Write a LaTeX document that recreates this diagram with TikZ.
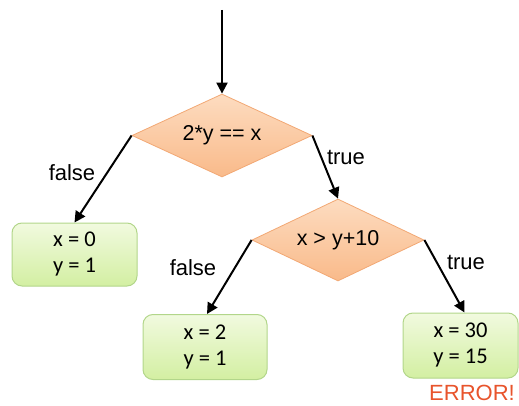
\documentclass[tikz,border=0pt]{standalone}
\usepackage{fontspec}
\setmainfont{Liberation Sans}
\newfontfamily\boxfont{Carlito}
\usetikzlibrary{shapes.geometric,arrows.meta}
\definecolor{dfill1}{HTML}{FDDCC0}
\definecolor{dfill2}{HTML}{F9BA8A}
\definecolor{dborder}{HTML}{F2A874}
\definecolor{bfill1}{HTML}{F1FADF}
\definecolor{bfill2}{HTML}{D3EFA2}
\definecolor{bborder}{HTML}{B2D68A}
\definecolor{errred}{HTML}{E8542C}
\tikzset{
  decision/.style={diamond, draw=dborder, line width=0.8pt, top color=dfill1, bottom color=dfill2,
    inner sep=0pt, aspect=2.17, font=\fontsize{21.5}{25}\selectfont},
  result/.style={rectangle, rounded corners=10pt, draw=bborder, line width=1pt,
    top color=bfill1, bottom color=bfill2, align=center, inner sep=0pt,
    font=\boxfont\fontsize{22.5}{26}\selectfont},
  conn/.style={line width=2pt, -{Triangle[length=11pt,width=11pt]}},
  lbl/.style={font=\fontsize{22}{26}\selectfont, inner sep=0pt}
}
\begin{document}
\begin{tikzpicture}[x=1pt,y=-1pt]
\useasboundingbox (0,0) rectangle (519,406);
\coordinate (start) at (222,10);
\node[decision, minimum width=180pt, minimum height=83pt] (d1) at (222,135.5) {2*y == x};
\node[decision, minimum width=172pt, minimum height=82pt] (d2) at (338,240) {x > y+10};
\node[result, minimum width=125pt, minimum height=63pt] (b1) at (74.5,254.5) {x = 0\\y = 1};
\node[result, minimum width=124pt, minimum height=65pt] (b2) at (205,347) {x = 2\\y = 1};
\node[result, minimum width=115pt, minimum height=65pt] (b3) at (460.5,345.5) {x = 30\\y = 15};
\draw[conn] (start) -- (d1.north);
\draw[conn] (d1.west) -- (b1.north);
\draw[conn] (d1.east) -- (d2.north);
\draw[conn] (d2.west) -- ([xshift=2pt]b2.north);
\draw[conn] (d2.east) -- ([xshift=4pt]b3.north);
\node[lbl] (f1) at (72,173) {false};
\node[lbl] (t1) at (346,157) {true};
\node[lbl] (f2) at (193,268) {false};
\node[lbl] (t2) at (466,262) {true};
\node[lbl, text=errred] (err) at (472,393) {ERROR!};
\end{tikzpicture}
\end{document}
